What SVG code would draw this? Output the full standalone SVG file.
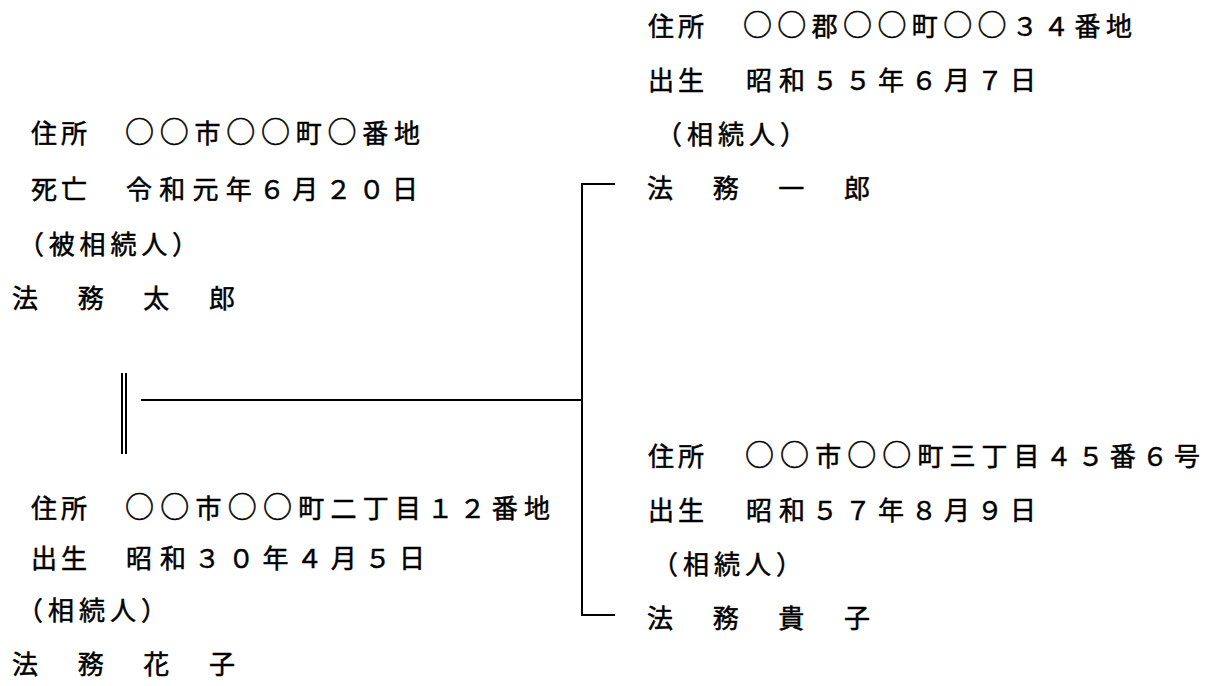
<svg xmlns="http://www.w3.org/2000/svg" width="1212" height="686" viewBox="0 0 1212 686">
<style>
text{font-family:"Noto Sans CJK JP","Noto Sans CJK SC",sans-serif;font-size:26px;fill:#000;stroke:#000;stroke-width:0.5px}
.c{font-size:29px}
.ln{stroke:#000;stroke-width:2;fill:none}
</style>
<rect width="1212" height="686" fill="#fff"/>
<g id="connectors">
<line class="ln" x1="122" y1="373" x2="122" y2="454"/>
<line class="ln" x1="126" y1="373" x2="126" y2="454"/>
<line class="ln" x1="141" y1="400" x2="582" y2="400"/>
<polyline class="ln" points="615,184 582,184 582,615 615,615"/>
</g>
<g id="node-taro">
<text x="31" y="143" textLength="56" lengthAdjust="spacing">住所</text>
<text x="125" y="143" textLength="295" lengthAdjust="spacing"><tspan class="c">○○</tspan>市<tspan class="c">○○</tspan>町<tspan class="c">○</tspan>番地</text>
<text x="31" y="199" textLength="56" lengthAdjust="spacing">死亡</text>
<text x="126" y="199" textLength="292" lengthAdjust="spacing">令和元年６月２０日</text>
<text x="18" y="254" textLength="180" lengthAdjust="spacing">（被相続人）</text>
<text x="12" y="308" textLength="223" lengthAdjust="spacing">法　務　太　郎</text>
</g>
<g id="node-hanako">
<text x="31" y="518" textLength="56" lengthAdjust="spacing">住所</text>
<text x="125" y="518" textLength="425" lengthAdjust="spacing"><tspan class="c">○○</tspan>市<tspan class="c">○○</tspan>町二丁目１２番地</text>
<text x="31" y="568" textLength="56" lengthAdjust="spacing">出生</text>
<text x="126" y="568" textLength="299" lengthAdjust="spacing">昭和３０年４月５日</text>
<text x="17" y="620" textLength="150" lengthAdjust="spacing">（相続人）</text>
<text x="12" y="674" textLength="223" lengthAdjust="spacing">法　務　花　子</text>
</g>
<g id="node-ichiro">
<text x="648" y="36" textLength="56" lengthAdjust="spacing">住所</text>
<text x="743" y="36" textLength="389" lengthAdjust="spacing"><tspan class="c">○○</tspan>郡<tspan class="c">○○</tspan>町<tspan class="c">○○</tspan>３４番地</text>
<text x="648" y="90" textLength="56" lengthAdjust="spacing">出生</text>
<text x="746" y="90" textLength="290" lengthAdjust="spacing">昭和５５年６月７日</text>
<text x="656" y="144" textLength="150" lengthAdjust="spacing">（相続人）</text>
<text x="647" y="198" textLength="223" lengthAdjust="spacing">法　務　一　郎</text>
</g>
<g id="node-takako">
<text x="648" y="466" textLength="56" lengthAdjust="spacing">住所</text>
<text x="745" y="466" textLength="455" lengthAdjust="spacing"><tspan class="c">○○</tspan>市<tspan class="c">○○</tspan>町三丁目４５番６号</text>
<text x="648" y="520" textLength="56" lengthAdjust="spacing">出生</text>
<text x="746" y="520" textLength="290" lengthAdjust="spacing">昭和５７年８月９日</text>
<text x="652" y="574" textLength="150" lengthAdjust="spacing">（相続人）</text>
<text x="647" y="628" textLength="223" lengthAdjust="spacing">法　務　貴　子</text>
</g>
</svg>
